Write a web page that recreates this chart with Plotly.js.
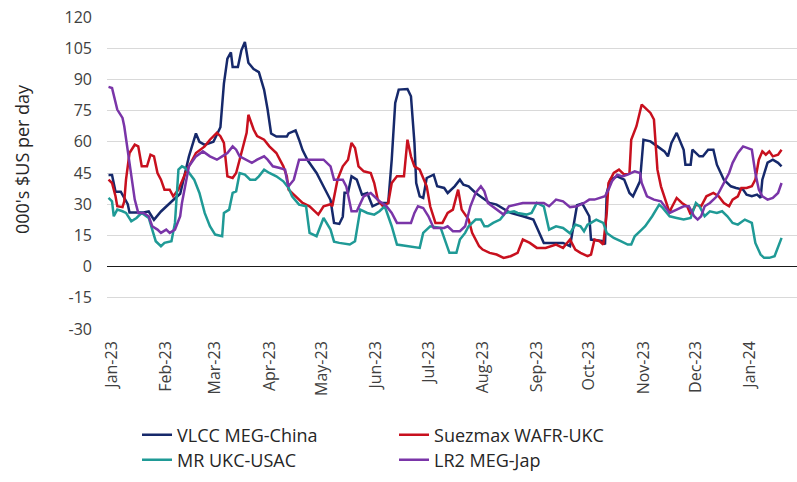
<!DOCTYPE html>
<html>
<head>
<meta charset="utf-8">
<script src="https://cdn.plot.ly/plotly-3.0.1.min.js"></script>
<style>html,body{margin:0;padding:0;background:#fff;}#chart{width:797px;height:482px;}</style>
</head>
<body>
<div id="chart"></div>
<script>
const seriesNames = ['VLCC MEG-China', 'Suezmax WAFR-UKC', 'MR UKC-USAC', 'LR2 MEG-Jap'];
const seriesColors = ['#16296b', '#c8101e', '#1f9a96', '#7a35a8'];

const vlccDates = ['2022-12-30','2023-01-01','2023-01-03','2023-01-06','2023-01-08','2023-01-10','2023-01-11','2023-01-19','2023-01-22','2023-01-25','2023-01-29','2023-02-01','2023-02-05','2023-02-09','2023-02-12','2023-02-14','2023-02-18','2023-02-20','2023-02-23','2023-02-28','2023-03-04','2023-03-06','2023-03-08','2023-03-10','2023-03-11','2023-03-14','2023-03-16','2023-03-18','2023-03-20','2023-03-23','2023-03-26','2023-03-29','2023-03-31','2023-04-02','2023-04-05','2023-04-11','2023-04-12','2023-04-16','2023-04-18','2023-04-20','2023-04-23','2023-04-28','2023-05-02','2023-05-06','2023-05-08','2023-05-11','2023-05-13','2023-05-14','2023-05-16','2023-05-18','2023-05-21','2023-05-24','2023-05-27','2023-05-30','2023-06-03','2023-06-08','2023-06-10','2023-06-12','2023-06-14','2023-06-19','2023-06-21','2023-06-23','2023-06-24','2023-06-26','2023-06-28','2023-06-30','2023-07-04','2023-07-06','2023-07-10','2023-07-12','2023-07-16','2023-07-19','2023-07-21','2023-07-24','2023-07-28','2023-08-01','2023-08-05','2023-08-09','2023-08-14','2023-08-17','2023-08-24','2023-08-30','2023-09-05','2023-09-16','2023-09-20','2023-09-22','2023-09-24','2023-09-27','2023-09-29','2023-10-01','2023-10-02','2023-10-09','2023-10-10','2023-10-11','2023-10-13','2023-10-17','2023-10-21','2023-10-24','2023-10-26','2023-10-28','2023-10-30','2023-11-01','2023-11-05','2023-11-09','2023-11-13','2023-11-15','2023-11-17','2023-11-20','2023-11-22','2023-11-24','2023-11-25','2023-11-28','2023-11-29','2023-12-03','2023-12-05','2023-12-08','2023-12-11','2023-12-13','2023-12-17','2023-12-21','2023-12-24','2023-12-28','2023-12-30','2024-01-02','2024-01-05','2024-01-07','2024-01-08','2024-01-11','2024-01-14','2024-01-17','2024-01-19'];
const vlccValues = [44,44,36,36,33,30,26,26,26.5,22.5,26.5,29,32,35,45,53,64,60,58.5,60,67,88,100,103,96,96,104,108,98,95,93.5,85,75.5,64,62.5,62.5,64,65.5,61,56,51,45,38.5,32,21,20.5,24,35.5,35.5,43.4,41.8,34.6,35.4,29,30.6,30.6,51.4,78.7,85.1,85.4,81.9,59.5,40.2,33.8,33,42.6,44.2,38.6,37.8,35.4,38.6,41.8,39.4,38.6,35.4,33,30.6,29.8,27.4,25.8,24.2,22.6,11.4,11.4,9.8,20,29.5,30.3,27.4,24.2,13,12.2,10.6,35.4,41.8,43.4,41.8,35.4,33.8,37.8,41,61,60.2,57.8,55.4,53,59.5,64.3,60,56.2,49,49,56.2,53,53,56.2,56.2,49,41.8,38.6,37.8,37,34.6,33.8,34.6,33,41.8,50,51.4,49.9,48.2];

const suezDates = ['2022-12-30','2023-01-01','2023-01-03','2023-01-04','2023-01-07','2023-01-08','2023-01-09','2023-01-11','2023-01-14','2023-01-16','2023-01-18','2023-01-21','2023-01-23','2023-01-25','2023-01-27','2023-01-29','2023-01-31','2023-02-03','2023-02-05','2023-02-08','2023-02-12','2023-02-15','2023-02-18','2023-02-23','2023-02-26','2023-03-02','2023-03-04','2023-03-06','2023-03-08','2023-03-11','2023-03-13','2023-03-16','2023-03-19','2023-03-20','2023-03-23','2023-03-25','2023-03-29','2023-04-01','2023-04-05','2023-04-09','2023-04-11','2023-04-12','2023-04-16','2023-04-20','2023-04-24','2023-04-29','2023-05-02','2023-05-06','2023-05-07','2023-05-10','2023-05-13','2023-05-16','2023-05-18','2023-05-20','2023-05-22','2023-05-25','2023-05-29','2023-05-31','2023-06-02','2023-06-05','2023-06-08','2023-06-10','2023-06-13','2023-06-17','2023-06-19','2023-06-21','2023-06-23','2023-06-26','2023-06-30','2023-07-02','2023-07-05','2023-07-09','2023-07-12','2023-07-15','2023-07-18','2023-07-20','2023-07-24','2023-07-26','2023-07-30','2023-08-01','2023-08-05','2023-08-09','2023-08-13','2023-08-17','2023-08-21','2023-08-24','2023-08-28','2023-09-01','2023-09-06','2023-09-12','2023-09-16','2023-09-20','2023-09-23','2023-09-26','2023-09-30','2023-10-02','2023-10-04','2023-10-07','2023-10-09','2023-10-11','2023-10-12','2023-10-15','2023-10-18','2023-10-21','2023-10-24','2023-10-25','2023-10-28','2023-10-31','2023-11-02','2023-11-05','2023-11-07','2023-11-09','2023-11-11','2023-11-13','2023-11-16','2023-11-17','2023-11-20','2023-11-23','2023-11-26','2023-11-28','2023-12-01','2023-12-04','2023-12-07','2023-12-11','2023-12-14','2023-12-17','2023-12-20','2023-12-22','2023-12-25','2023-12-27','2023-12-30','2024-01-02','2024-01-04','2024-01-06','2024-01-08','2024-01-10','2024-01-12','2024-01-14','2024-01-17','2024-01-19'];
const suezValues = [41.8,40.2,33.8,29,28.6,31.4,41.8,54.6,58.6,57.8,48.2,48.2,53.8,53,45,41.8,37,37,33.8,37,45,49.9,54.6,57.8,61,64.3,62.7,59.5,43.4,42.6,45,54.6,64.3,73,65.9,62.7,61,57.8,54.6,48.2,43.4,37,33.8,30.6,29,25,29,30,29,41.8,48.2,51.4,59.5,57,48.2,45.8,45,40.2,32.2,29,30.6,40.2,43.4,43.4,61,53,48.2,46.6,38.6,29,21,21,25.8,27.4,37,27.4,22.6,16.2,9.8,8.2,6.6,5.8,4.2,5,6.6,13,11.4,9,9,10.6,9,13,8.2,6.6,5,5.8,13,12.2,10.6,25.8,40.2,45,46.6,44.2,45,61,67.5,77.9,76.3,73.9,70.7,46.6,38.6,33.8,25.8,28.2,33,30.6,29,25,29.8,29,33.8,35.4,33.8,30.6,29,32.2,33.8,37.8,37.8,38.6,41.8,51.4,55.4,53.8,55.4,53,53.8,56.2];

const mrDates = ['2022-12-30','2023-01-01','2023-01-02','2023-01-04','2023-01-07','2023-01-09','2023-01-12','2023-01-15','2023-01-18','2023-01-22','2023-01-24','2023-01-26','2023-01-29','2023-01-31','2023-02-04','2023-02-06','2023-02-08','2023-02-10','2023-02-12','2023-02-14','2023-02-17','2023-02-20','2023-02-23','2023-02-26','2023-03-01','2023-03-05','2023-03-06','2023-03-09','2023-03-11','2023-03-13','2023-03-15','2023-03-18','2023-03-21','2023-03-24','2023-03-26','2023-03-29','2023-04-01','2023-04-05','2023-04-09','2023-04-12','2023-04-14','2023-04-18','2023-04-22','2023-04-24','2023-04-28','2023-05-02','2023-05-06','2023-05-08','2023-05-11','2023-05-17','2023-05-20','2023-05-23','2023-05-27','2023-05-31','2023-06-03','2023-06-06','2023-06-10','2023-06-13','2023-06-19','2023-06-26','2023-06-28','2023-07-02','2023-07-08','2023-07-11','2023-07-13','2023-07-17','2023-07-19','2023-07-22','2023-07-24','2023-07-28','2023-07-31','2023-08-02','2023-08-04','2023-08-07','2023-08-11','2023-08-14','2023-08-19','2023-08-21','2023-08-26','2023-08-29','2023-09-01','2023-09-05','2023-09-08','2023-09-12','2023-09-16','2023-09-20','2023-09-23','2023-09-26','2023-09-28','2023-09-30','2023-10-02','2023-10-05','2023-10-09','2023-10-11','2023-10-15','2023-10-19','2023-10-23','2023-10-25','2023-10-27','2023-10-31','2023-11-02','2023-11-06','2023-11-10','2023-11-12','2023-11-16','2023-11-20','2023-11-24','2023-11-28','2023-12-01','2023-12-03','2023-12-06','2023-12-09','2023-12-13','2023-12-16','2023-12-19','2023-12-22','2023-12-25','2023-12-29','2024-01-02','2024-01-04','2024-01-07','2024-01-09','2024-01-12','2024-01-15','2024-01-17','2024-01-19'];
const mrValues = [33,31.4,24.2,27.4,26.6,25.8,21.8,23.4,25.8,23.4,17.8,12.2,9.8,11.4,12.2,21,46.6,48.2,47.4,45,41.8,35.4,25.8,19.4,15.4,14.6,25.8,27.4,35.4,36.2,45,44.2,41.8,41.8,43.4,46.6,45,43.4,41,37.8,33.8,29.8,29,16.2,14.6,23.4,17.8,12,11.4,10.6,12.2,27.4,25.8,25,26.6,29,19.4,10.6,9.8,9,16.2,19.4,18.6,11.4,6.6,6.6,13,16.2,19.4,22.6,22.6,19.4,19.4,21,22.6,25.8,26.6,25.8,25,25.8,30.6,29,17.8,19.4,18.6,16,20.2,19.4,17,20.2,21,22.6,21,16.2,13.8,12.2,10.6,10.6,14.6,17.8,19.4,24.2,29.8,28.2,24.2,23.4,22.6,23.4,30.6,29,24.2,26.6,25.8,26.6,24.2,21,20.2,22.6,21,11.4,5.8,4.2,4.2,5,9.8,13.8];

const lr2Dates = ['2022-12-30','2023-01-01','2023-01-04','2023-01-07','2023-01-08','2023-01-10','2023-01-12','2023-01-14','2023-01-16','2023-01-19','2023-01-22','2023-01-24','2023-01-27','2023-01-29','2023-02-01','2023-02-03','2023-02-06','2023-02-09','2023-02-10','2023-02-12','2023-02-14','2023-02-18','2023-02-22','2023-02-26','2023-03-02','2023-03-05','2023-03-08','2023-03-11','2023-03-13','2023-03-15','2023-03-19','2023-03-22','2023-03-25','2023-03-29','2023-03-31','2023-04-03','2023-04-07','2023-04-10','2023-04-11','2023-04-12','2023-04-15','2023-04-18','2023-05-02','2023-05-06','2023-05-08','2023-05-13','2023-05-15','2023-05-18','2023-05-21','2023-05-25','2023-05-29','2023-05-31','2023-06-03','2023-06-07','2023-06-10','2023-06-13','2023-06-21','2023-06-23','2023-06-25','2023-06-28','2023-07-01','2023-07-04','2023-07-10','2023-07-12','2023-07-15','2023-07-19','2023-07-22','2023-07-25','2023-07-28','2023-07-31','2023-08-02','2023-08-04','2023-08-09','2023-08-13','2023-08-16','2023-08-20','2023-08-24','2023-09-05','2023-09-08','2023-09-12','2023-09-16','2023-09-20','2023-09-24','2023-09-28','2023-10-01','2023-10-04','2023-10-07','2023-10-10','2023-10-12','2023-10-14','2023-10-17','2023-10-20','2023-10-23','2023-10-27','2023-10-30','2023-10-31','2023-11-03','2023-11-07','2023-11-11','2023-11-13','2023-11-16','2023-11-20','2023-11-24','2023-11-27','2023-11-30','2023-12-02','2023-12-04','2023-12-06','2023-12-09','2023-12-13','2023-12-17','2023-12-20','2023-12-22','2023-12-25','2023-12-28','2023-12-31','2024-01-02','2024-01-04','2024-01-06','2024-01-08','2024-01-11','2024-01-14','2024-01-17','2024-01-19'];
const lr2Values = [86.4,85.9,75.5,71.5,67.5,56.2,43.4,32.2,25.8,25.8,24.2,19.4,17.8,16.2,17.8,16.2,17.8,24.2,30.6,38.6,48.2,53,55.4,53,51.4,53,54.6,57.8,56.2,53,51.4,49.9,51.4,53,51.4,48.2,47.4,46.6,41.8,38.6,41.8,51.4,51.4,48.2,41.8,41.8,38.6,26.6,26.6,33.8,35.4,33.8,31.4,29,25.8,21,21,25.8,29,28.2,24.2,18.6,18.6,19.4,17,17,19.4,29,35.4,38.6,36.2,30.6,27.4,25,29,29.8,30.6,30.6,29,32.2,31.4,28.6,29,30.6,32.2,32.2,33,33.8,37,41,44.2,43.4,44.2,45.8,45,40.2,33.8,32.2,31.4,29,25.8,27.4,29,29,24.2,22.6,24.2,29,30.6,33.8,40.2,45,49.9,54.6,57.8,57,56.2,45,37,33.8,32.2,33,35.4,40.2];

const yTitle = "000's $US per day";
const yTicks = [-30, -15, 0, 15, 30, 45, 60, 75, 90, 105, 120];

const xs = [vlccDates, suezDates, mrDates, lr2Dates];
const ys = [vlccValues, suezValues, mrValues, lr2Values];
const legendIds = ['legend', 'legend', 'legend2', 'legend2'];

const traces = seriesNames.map((name, i) => ({
  type: 'scatter', mode: 'lines', name: name,
  x: xs[i], y: ys[i],
  line: {color: seriesColors[i], width: 2.5},
  legend: legendIds[i],
  hoverinfo: 'x+y+name'
}));

const FONT = 'Open Sans, Noto Sans, sans-serif';
const legendCommon = {
  orientation: 'h', xanchor: 'left', yanchor: 'middle', x: 0.0435,
  entrywidth: 212, entrywidthmode: 'pixels', itemwidth: 30,
  font: {family: FONT, size: 18, color: '#262626'},
  bgcolor: 'rgba(0,0,0,0)', borderwidth: 0
};

const layout = {
  width: 797, height: 482,
  margin: {l: 107, r: 0, t: 17, b: 153, pad: 0},
  paper_bgcolor: '#ffffff', plot_bgcolor: '#ffffff',
  font: {family: FONT, color: '#404040'},
  showlegend: true,
  xaxis: {
    type: 'date',
    range: ['2022-12-29 03:00', '2024-01-27 20:00'],
    tick0: '2023-01-01', dtick: 'M1', tickformat: '%b-%y',
    tickangle: -90, ticks: '', showgrid: false, zeroline: false,
    showline: false, ticklabelstandoff: 8,
    tickfont: {family: FONT, size: 16, color: '#404040'}
  },
  yaxis: {
    range: [-30, 120], tickvals: yTicks, ticktext: yTicks.map(String),
    showgrid: true, gridcolor: '#d9d9d9', gridwidth: 1,
    zeroline: true, zerolinecolor: '#1a1a1a', zerolinewidth: 1.6,
    ticks: '', showline: false, ticklabelstandoff: 14,
    tickfont: {family: FONT, size: 16, color: '#404040'}
  },
  legend: Object.assign({}, legendCommon, {y: -0.34}),
  legend2: Object.assign({}, legendCommon, {y: -0.42}),
  annotations: [{
    text: yTitle, xref: 'paper', yref: 'paper', x: -0.123, y: 0.545,
    xanchor: 'center', yanchor: 'middle', textangle: -90, showarrow: false,
    font: {family: FONT, size: 18, color: '#262626'}
  }]
};

Plotly.newPlot('chart', traces, layout, {displayModeBar: false, staticPlot: true});
</script>
</body>
</html>
